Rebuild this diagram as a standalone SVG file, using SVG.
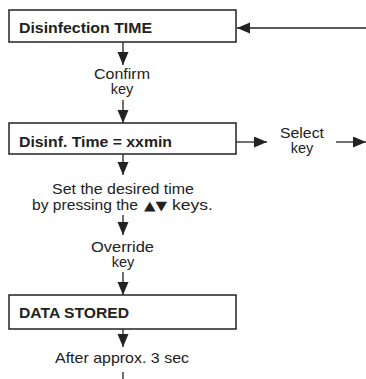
<svg xmlns="http://www.w3.org/2000/svg" width="366" height="379" viewBox="0 0 366 379">
<style>
.box{fill:#fff;stroke:#222;stroke-width:1.5}
.b{font-family:"Liberation Sans",Arial,sans-serif;font-weight:bold;font-size:15px;fill:#222}
.t{font-family:"Liberation Sans",Arial,sans-serif;font-size:14.5px;fill:#222;text-anchor:middle}
.s{font-family:"Liberation Sans",Arial,sans-serif;font-size:14.5px;fill:#222}
.sym{font-family:"DejaVu Sans",sans-serif;font-size:13px;fill:#222}
.ln{stroke:#222;stroke-width:1.3;fill:none}
</style>
<defs>
<marker id="ah" markerUnits="userSpaceOnUse" markerWidth="14" markerHeight="12" refX="13" refY="5.5" orient="auto">
<path d="M0,0 L13,5.5 L0,11 Z" fill="#222"/>
</marker>
</defs>
<g id="connectors">
<line class="ln" x1="366" y1="28" x2="237" y2="28" marker-end="url(#ah)"/>
<line class="ln" x1="123" y1="42" x2="123" y2="65" marker-end="url(#ah)"/>
<line class="ln" x1="123" y1="100" x2="123" y2="123" marker-end="url(#ah)"/>
<line class="ln" x1="236" y1="142" x2="267" y2="142" marker-end="url(#ah)"/>
<line class="ln" x1="336" y1="142" x2="366" y2="142" marker-end="url(#ah)"/>
<line class="ln" x1="123" y1="154" x2="123" y2="175" marker-end="url(#ah)"/>
<line class="ln" x1="123" y1="215" x2="123" y2="235" marker-end="url(#ah)"/>
<line class="ln" x1="123" y1="272" x2="123" y2="295" marker-end="url(#ah)"/>
<line class="ln" x1="123" y1="329" x2="123" y2="347" marker-end="url(#ah)"/>
<line class="ln" x1="123" y1="372" x2="123" y2="379"/>
</g>
<g id="node-disinfection-time">
<rect class="box" x="9" y="10" width="227" height="32"/>
<text class="b" x="19" y="33" textLength="133" lengthAdjust="spacingAndGlyphs">Disinfection TIME</text>
</g>
<g id="label-confirm">
<text class="t" x="122" y="79" textLength="56" lengthAdjust="spacingAndGlyphs">Confirm</text>
<text class="t" x="122" y="94">key</text>
</g>
<g id="node-disinf-time">
<rect class="box" x="9" y="123" width="227" height="31"/>
<text class="b" x="19" y="147" textLength="153" lengthAdjust="spacingAndGlyphs">Disinf. Time = xxmin</text>
</g>
<g id="label-select">
<text class="t" x="302" y="138" textLength="44" lengthAdjust="spacingAndGlyphs">Select</text>
<text class="t" x="302" y="153">key</text>
</g>
<g id="label-set">
<text class="t" x="123" y="194" textLength="142" lengthAdjust="spacingAndGlyphs">Set the desired time</text>
<text class="s" x="32" y="210" textLength="106" lengthAdjust="spacingAndGlyphs">by pressing the</text>
<text class="sym" x="144" y="210" textLength="23" lengthAdjust="spacingAndGlyphs">▲▼</text>
<text class="s" x="172" y="210" textLength="41" lengthAdjust="spacingAndGlyphs">keys.</text>
</g>
<g id="label-override">
<text class="t" x="122.5" y="252" textLength="63" lengthAdjust="spacingAndGlyphs">Override</text>
<text class="t" x="123" y="267">key</text>
</g>
<g id="node-data-stored">
<rect class="box" x="9" y="295" width="227" height="34"/>
<text class="b" x="19" y="318" textLength="110" lengthAdjust="spacingAndGlyphs">DATA STORED</text>
</g>
<g id="label-after">
<text class="t" x="122" y="363" textLength="134" lengthAdjust="spacingAndGlyphs">After approx. 3 sec</text>
</g>
</svg>
